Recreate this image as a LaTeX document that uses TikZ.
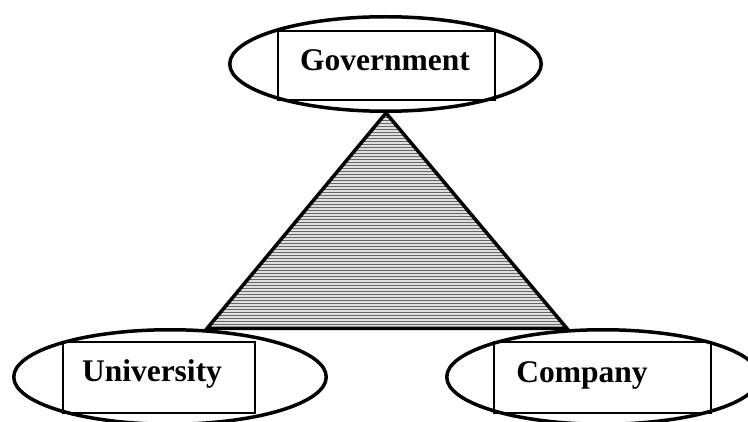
\documentclass[tikz,border=0pt]{standalone}
\usepackage{fontspec}
\setmainfont{Liberation Serif}
\usetikzlibrary{shapes.geometric,patterns}
\begin{document}
\begin{tikzpicture}[x=1pt,y=1pt,
  oval/.style={ellipse,draw=black,line width=3.5pt,fill=white,inner sep=0pt},
  labelbox/.style={rectangle,draw=black,line width=1.4pt,inner sep=0pt},
  lbl/.style={anchor=base,inner sep=0pt,font=\fontsize{31.5}{36}\selectfont\bfseries}]
\useasboundingbox (0,0) rectangle (748,421);
% triangle
\coordinate (apex) at (386,308);
\coordinate (bl) at (207,92.5);
\coordinate (br) at (567,92.5);
\fill[gray!25] (apex) -- (bl) -- (br) -- cycle;
\fill[pattern=horizontal lines,pattern color=gray!80!black] (apex) -- (bl) -- (br) -- cycle;
\draw[line width=3.5pt,line join=miter] (apex) -- (bl) -- (br) -- cycle;
% ellipses
\node[oval,minimum width=311.5pt,minimum height=94.5pt] (gov) at (385.5,357) {};
\node[oval,minimum width=312.5pt,minimum height=94.5pt] (univ) at (170,44) {};
\node[oval,minimum width=312.5pt,minimum height=94.5pt] (comp) at (603,44) {};
% boxes
\node[labelbox,minimum width=217pt,minimum height=69pt] (govbox) at (386.5,355.5) {};
\node[labelbox,minimum width=192pt,minimum height=71pt] (univbox) at (159,43.5) {};
\node[labelbox,minimum width=217pt,minimum height=71pt] (compbox) at (602.5,43.5) {};
% labels
\node[lbl] (govtxt) at (385,350) {Government};
\node[lbl] (univtxt) at (152,39) {University};
\node[lbl] (comptxt) at (582,38) {Company};
\end{tikzpicture}
\end{document}
